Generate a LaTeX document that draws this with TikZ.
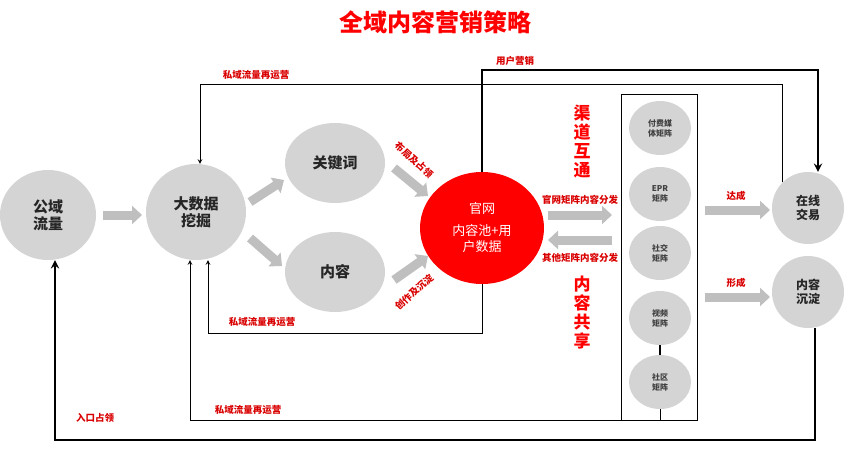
\documentclass[tikz,border=0pt]{standalone}
\usepackage{fontspec}
\setmainfont{Noto Sans CJK SC}
\usetikzlibrary{arrows,arrows.meta,shapes,positioning}

\tikzset{
  bubble/.style={draw=none,ellipse,fill=black!17,font=\bfseries\fontsize{15}{17}\selectfont,align=center,text=black!85},
  mbubble/.style={draw=none,ellipse,fill=black!17,minimum width=62pt,minimum height=54pt,font=\bfseries\fontsize{8}{10}\selectfont,align=center,text=black!75},
  fatarrow/.style={draw=black!25,line width=9pt,-{Triangle[width=18pt,length=10pt]}},
  redlab/.style={text=red!85!black,font=\bfseries\fontsize{9.5}{11}\selectfont},
  bigred/.style={text=red,font=\bfseries\fontsize{17}{19}\selectfont,align=center},
  flow/.style={->,>=stealth,line width=1pt},
  thickflow/.style={->,>=stealth,line width=2.6pt}
}

\begin{document}
\begin{tikzpicture}[x=1pt,y=-1pt]
\useasboundingbox (0,0) rectangle (850,449);

\node[text=red,font=\bfseries\fontsize{24}{26}\selectfont] (title) at (435,22) {全域内容营销策略};

\node (pub) at (48,215)[bubble,minimum width=96pt,minimum height=90pt] {公域\\流量};
\node (big) at (196,212)[bubble,minimum width=100pt,minimum height=96pt] {大数据\\挖掘};
\node (kw) at (335,163)[bubble,minimum width=100pt,minimum height=80pt] {关键词};
\node (cont) at (335,272)[bubble,minimum width=100pt,minimum height=80pt] {内容};
\node (web) at (482,228)[ellipse,fill=red,minimum width=124pt,minimum height=112pt,text=white,font=\fontsize{13}{16}\selectfont,align=center] {官网\\[6pt]内容池+用\\户数据};

\draw[fatarrow] (103,215) -- (142,215);
\draw[fatarrow] (250,202) -- (284,180);
\draw[fatarrow] (250,238) -- (282,266);
\draw[fatarrow] (394,168) -- (428,196);
\draw[fatarrow] (394,280) -- (428,256);
\node[redlab,rotate=-42] (l4) at (414,160) {布局及占领};
\node[redlab,rotate=42] (l5) at (414,292) {创作及沉淀};

\draw[fatarrow] (548,215) -- (612,215);
\draw[fatarrow] (612,240) -- (548,240);
\node[redlab] (l6) at (580,200) {官网矩阵内容分发};
\node[redlab] (l7) at (580,258) {其他矩阵内容分发};
\node[bigred] (ch) at (582,142) {渠\\道\\互\\通};
\node[bigred] (sh) at (582,313) {内\\容\\共\\享};

\draw[line width=1pt] (621,95) rectangle (697,420);
\node (m1) at (660,128)[mbubble] {付费媒\\体矩阵};
\node (m2) at (660,194)[mbubble] {EPR\\矩阵};
\node (m3) at (660,253)[mbubble] {社交\\矩阵};
\node (m4) at (660,318)[mbubble] {视频\\矩阵};
\node (m5) at (660,382)[mbubble] {社区\\矩阵};
\draw[line width=1.5pt] (m4) -- (m5);

\draw[fatarrow] (705,210) -- (770,210);
\draw[fatarrow] (705,297) -- (770,297);
\node[redlab] (l8) at (736,196) {达成};
\node[redlab] (l9) at (736,283) {形成};
\node (tr) at (808,208)[bubble,circle,minimum size=72pt,font=\bfseries\fontsize{12}{14}\selectfont] {在线\\交易};
\node (dep) at (808,292)[bubble,circle,minimum size=72pt,font=\bfseries\fontsize{12}{14}\selectfont] {内容\\沉淀};

% feedback loops
\coordinate (t2) at (200,85);
\draw[flow] (tr.north west) |- (t2) -- (big.north -| t2);
\node[redlab] (l10) at (256,75) {私域流量再运营};

\coordinate (u1) at (482,70);
\coordinate (u2) at (818,70);
\draw[thickflow] (web.north) -- (u1) -- (u2) -- (tr.north -| u2);
\node[redlab] (l11) at (515,61) {用户营销};

\coordinate (b1) at (482,333);
\coordinate (b2) at (208,333);
\draw[flow] (web.south) -- (b1) -- (b2) -- (b2 |- big.south);
\node[redlab] (l12) at (262,322) {私域流量再运营};

\coordinate (c1) at (660,420);
\coordinate (c2) at (190,420);
\draw[flow] (m5.south) -- (c1) -- (c2) -- (c2 |- big.south);
\node[redlab] (l13) at (248,410) {私域流量再运营};

\coordinate (d1) at (815,440);
\coordinate (d2) at (55,440);
\draw[thickflow] (dep.south -| d1) -- (d1) -- (d2) -- (d2 |- pub.south);
\node[redlab] (l14) at (95,418) {入口占领};
\end{tikzpicture}
\end{document}
